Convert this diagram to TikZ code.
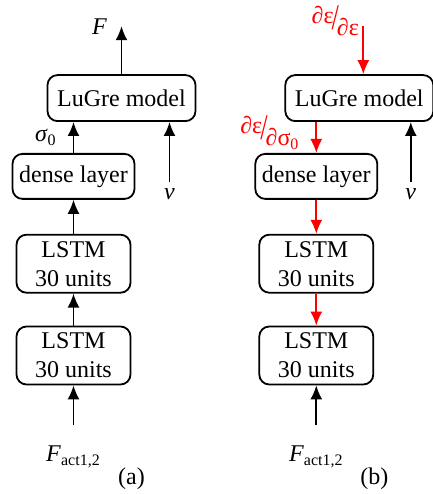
\documentclass[tikz,border=0pt]{standalone}
\usepackage{fontspec}
\setmainfont{Liberation Serif}
\usepackage{graphicx}
\usetikzlibrary{arrows.meta, positioning}

\newcommand{\slfrac}[2]{\raisebox{3pt}{#1}\kern-1pt\scalebox{1.1}[1.5]{/}\kern-1pt\raisebox{-3pt}{#2}}

\begin{document}
\begin{tikzpicture}[
		block/.style={rectangle, draw, rounded corners=5pt, line width=0.9pt, align=center,
				inner sep=2pt, font=\fontsize{12}{14.5}\selectfont},
		lstm/.style={block, minimum width=57pt, minimum height=29pt},
		dense/.style={block, minimum width=61pt, minimum height=22.5pt},
		lugre/.style={block, minimum width=74pt, minimum height=23pt},
		txt/.style={inner sep=1pt, font=\fontsize{12}{14.5}\selectfont},
		line/.style={draw, line width=0.85pt, -{Latex[length=7pt, width=6pt]}},
		grad/.style={line, red}
	]
	\useasboundingbox (0,0) rectangle (216.5pt,247pt);

	% (a) forward
	\node [lstm] (lstmA) at (36.75pt,69.25pt) {LSTM\\ 30 units};
	\node [lstm, above=16pt of lstmA] (lstmB) {LSTM\\ 30 units};
	\node [dense, above=17pt of lstmB] (denseA) {dense layer};
	\node [lugre, above=15.5pt of denseA, xshift=24pt] (lugreA) {LuGre model};

	\coordinate [above=24pt of lugreA.north] (outA);
	\coordinate [below=20pt of lstmA.south] (inA);
	\node [txt, left=6pt of outA] (forceA) {\textit{F}};
	\node [txt, below=9pt of inA] (factA) {\textit{F}\textsubscript{act1,2}};
	\node [txt, below=32pt of lugreA.south, xshift=24pt] (velA) {\textit{v}};
	\node [txt, at={(factA.center)}, xshift=29pt, yshift=-11pt] (capA) {(a)};

	\path [line] (inA) -- (lstmA);
	\path [line] (lstmA) -- (lstmB);
	\path [line] (lstmB) -- (denseA);
	\path [line] (denseA) -- (denseA |- lugreA.south) node [txt, midway, left=7pt] (sigA) {\textit{σ}\textsubscript{0}};
	\path [line, shorten <=2pt] (velA) -- (velA |- lugreA.south);
	\path [line] (lugreA) -- (outA);

	% (b) backward
	\node [lstm, right=63.5pt of lstmA] (lstmC) {LSTM\\ 30 units};
	\node [lstm, above=16pt of lstmC] (lstmD) {LSTM\\ 30 units};
	\node [dense, above=17pt of lstmD] (denseB) {dense layer};
	\node [lugre, above=15.5pt of denseB, xshift=21.5pt] (lugreB) {LuGre model};

	\coordinate [above=24pt of lugreB.north, xshift=2pt] (gradB);
	\coordinate [below=20pt of lstmC.south] (inB);
	\node [txt, text=red, anchor=south east] (dldfB) at ([xshift=-1pt, yshift=-6pt]gradB) {\slfrac{∂ε}{∂ε}};
	\node [txt, below=9pt of inB] (factB) {\textit{F}\textsubscript{act1,2}};
	\node [txt, below=32pt of lugreB.south, xshift=25.75pt] (velB) {\textit{v}};
	\node [txt, at={(factB.center)}, xshift=29pt, yshift=-11pt] (capB) {(b)};

	\path [grad] (gradB) -- (gradB |- lugreB.north);
	\path [grad] (lugreB.south -| denseB) -- (denseB) node [txt, text=red, midway, left=7pt, yshift=2.5pt] (dldsB) {\slfrac{∂ε}{∂σ\textsubscript{0}}};
	\path [grad] (denseB) -- (lstmD);
	\path [grad] (lstmD) -- (lstmC);
	\path [line] (inB) -- (lstmC);
	\path [line, shorten <=2pt] (velB) -- (velB |- lugreB.south);
\end{tikzpicture}
\end{document}
